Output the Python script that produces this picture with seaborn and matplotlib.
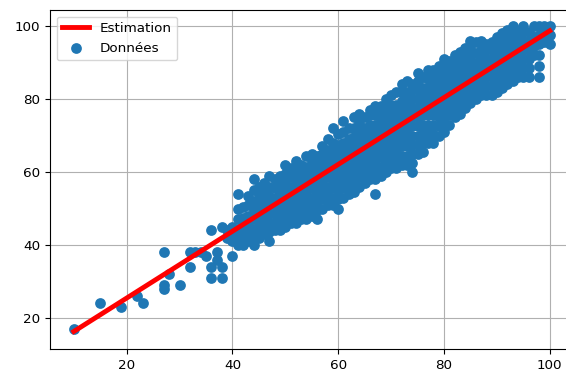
import matplotlib
matplotlib.use("Agg")
import matplotlib.pyplot as plt
import seaborn as sns
import pandas as pd

# Isolated points at the low end (x, y)
low_x = [10, 15, 19, 22, 23, 27, 27, 27, 28, 30, 32, 32, 33, 34, 35, 36, 36, 36, 37, 37, 38, 38, 38, 39, 39]
low_y = [17, 24, 23, 26, 24, 38, 29, 28, 32, 29, 34, 38, 38, 38, 37, 44, 34, 31, 38, 36, 34, 31, 45, 42, 44]

# Main cloud, read column by column: x value -> y values of the points
cloud = {
    40: [37, 41, 43, 45],
    41: [40, 42, 44.5, 47, 50, 54],
    42: [40, 42.5, 45, 47.5, 50.5],
    43: [41, 43.5, 46, 48, 51, 53.5],
    44: [40, 42, 44.5, 47, 49.5, 52, 55, 58],
    45: [42, 44, 46.5, 49, 51.5, 54, 56],
    46: [43, 45.5, 48, 50, 52.5, 55, 57],
    47: [41, 43.5, 46, 48.5, 51, 53.5, 56, 59],
    48: [44, 46, 48.5, 51, 53, 55.5, 58],
    49: [44, 46.5, 49, 51.5, 54, 56.5, 59],
    50: [45, 47.5, 50, 52, 54.5, 57, 59.5, 62],
    51: [46, 48.5, 51, 53.5, 56, 58.5, 61],
    52: [46, 48, 50.5, 53, 55.5, 58, 60.5, 63],
    53: [47, 49.5, 52, 54.5, 57, 59.5, 62],
    54: [47, 49, 51.5, 54, 56.5, 59, 61.5, 64.5],
    55: [48, 50.5, 53, 55.5, 58, 60.5, 63, 65],
    56: [47, 49.5, 52, 54.5, 57, 59.5, 62, 64.5],
    57: [50, 52.5, 55, 57.5, 60, 62.5, 65, 67],
    58: [51, 53.5, 56, 58.5, 61, 63.5, 66, 69],
    59: [51, 53, 55.5, 58, 60.5, 63, 65.5, 68, 72],
    60: [50, 52.5, 55, 57.5, 60, 62.5, 65, 67.5, 70.5],
    61: [53, 55.5, 58, 60.5, 63, 65.5, 68, 71, 74],
    62: [54, 56.5, 59, 61.5, 64, 66.5, 69, 72],
    63: [54.5, 57, 59.5, 62, 64.5, 67, 69.5, 72, 75],
    64: [56, 58.5, 61, 63.5, 66, 68.5, 71, 73.5, 76],
    65: [57, 59.5, 62, 64.5, 67, 69.5, 72, 75],
    66: [58, 60.5, 63, 65.5, 68, 70.5, 73, 75.5, 77],
    67: [54, 58, 60.5, 63, 65.5, 68, 70.5, 73, 75.5, 78],
    68: [59, 61.5, 64, 66.5, 69, 71.5, 74, 76.5, 78],
    69: [60, 62.5, 65, 67.5, 70, 72.5, 75, 77.5, 80],
    70: [61, 63.5, 66, 68.5, 71, 73.5, 76, 78.5, 81],
    71: [61, 63.5, 66, 68.5, 71, 73.5, 76, 78.5, 82],
    72: [62, 64.5, 67, 69.5, 72, 74.5, 77, 79.5, 82, 84],
    73: [62, 64.5, 67, 69.5, 72, 74.5, 77, 79.5, 82, 85],
    74: [60, 62.5, 65, 67.5, 70, 72.5, 75, 77.5, 80, 82.5, 84],
    75: [65, 67.5, 70, 72.5, 75, 77.5, 80, 82.5, 85, 87],
    76: [65.5, 68, 70.5, 73, 75.5, 78, 80.5, 83, 86],
    77: [68, 70.5, 73, 75.5, 78, 80.5, 83, 85.5, 88],
    78: [68, 70.5, 73, 75.5, 78, 80.5, 83, 85.5, 88],
    79: [70, 72.5, 75, 77.5, 80, 82.5, 85, 87.5, 89],
    80: [71, 73.5, 76, 78.5, 81, 83.5, 86, 88.5, 91],
    81: [73, 75.5, 78, 80.5, 83, 85.5, 88, 90.5],
    82: [75, 77.5, 80, 82.5, 85, 87.5, 90, 92],
    83: [76, 78.5, 81, 83.5, 86, 88.5, 91, 93],
    84: [77.5, 80, 82.5, 85, 87.5, 90, 92.5, 94],
    85: [79, 81.5, 84, 86.5, 89, 91.5, 94, 96],
    86: [80, 82.5, 85, 87.5, 90, 92.5, 95.5],
    87: [81, 83.5, 86, 88.5, 91, 93.5, 96],
    88: [81, 83.5, 86, 88.5, 91, 93.5, 95],
    89: [81, 83.5, 86, 88.5, 91, 93.5, 95.5],
    90: [82, 84.5, 87, 89.5, 92, 94.5, 97],
    91: [83, 85.5, 88, 90.5, 93, 95.5, 98],
    92: [84, 86.5, 89, 91.5, 94, 96.5, 99],
    93: [85, 87.5, 90, 92.5, 95, 97.5, 100],
    94: [86, 88.5, 91, 93.5, 96, 98.5],
    95: [86, 88.5, 91, 93.5, 96, 98.5, 100],
    96: [86, 88.5, 91, 93.5, 96, 98.5],
    97: [92, 94.5, 97, 100],
    98: [86, 89, 92, 95, 97.5, 100],
    99: [95.5, 98, 100],
    100: [95, 97.5, 100],
}

# Fitted line end points
est_x = [10, 100]
est_y = [16.3, 98.7]

pts_x = list(low_x)
pts_y = list(low_y)
for cx, ys in cloud.items():
    pts_x += [cx] * len(ys)
    pts_y += ys
df = pd.DataFrame({"x": pts_x, "y": pts_y})

plt.rcParams["font.size"] = 9.7

fig = plt.figure(figsize=(5.66, 3.76), dpi=100)
ax = fig.add_axes([0.0883, 0.0718, 0.925, 0.9016])

sns.scatterplot(data=df, x="x", y="y", color="#1f77b4", s=60, linewidth=0,
                label="Données", ax=ax)
sns.lineplot(x=est_x, y=est_y, color="red", linewidth=3.5, label="Estimation", ax=ax)

ax.set_xlim(5.5, 104.5)
ax.set_ylim(11.5, 104.4)
ax.set_xticks([20, 40, 60, 80, 100])
ax.set_yticks([20, 40, 60, 80, 100])
ax.set_xlabel("")
ax.set_ylabel("")
ax.grid(True, color="#b0b0b0", linewidth=0.8)
ax.set_axisbelow(True)
# the reference image is cropped just before the right border
ax.spines["right"].set_visible(False)

handles, labels = ax.get_legend_handles_labels()
order = [labels.index("Estimation"), labels.index("Données")]
ax.legend([handles[i] for i in order], [labels[i] for i in order], loc="upper left")

fig.savefig("out.png", dpi=100)
plt.close(fig)
